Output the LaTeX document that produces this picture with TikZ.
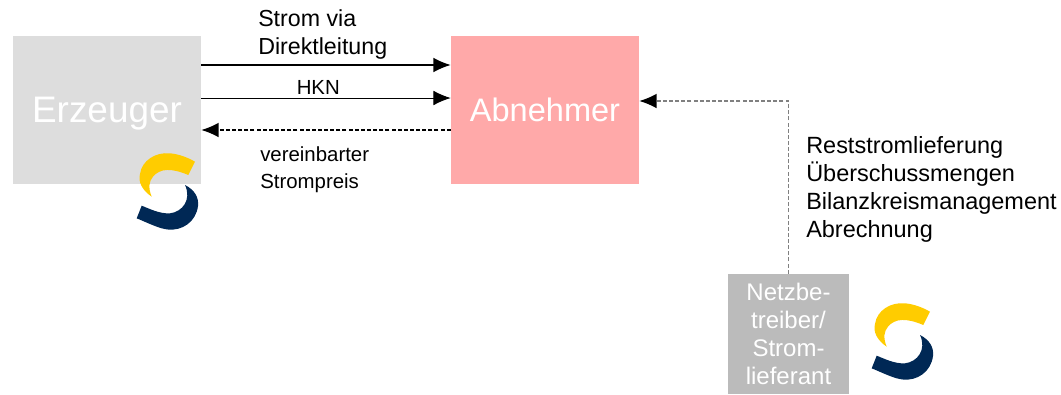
\documentclass[tikz,border=0pt]{standalone}
\usepackage{fontspec}
\setmainfont{Liberation Sans}
\usetikzlibrary{arrows.meta}
\definecolor{logoyellow}{HTML}{FFCC00}
\definecolor{logonavy}{HTML}{002855}
\definecolor{erzeugerfill}{HTML}{DDDDDD}
\definecolor{abnehmerfill}{HTML}{FFA9A9}
\definecolor{netzfill}{HTML}{BBBBBB}
\tikzset{
  partybox/.style={minimum width=#1, inner sep=0pt, text=white},
  conn/.style={-{Latex[length=13pt,width=11pt]}, line width=1pt},
  dashconn/.style={conn, dash pattern=on 3pt off 1.6pt},
  lbl/.style={anchor=west, inner sep=0pt, align=left}
}
\begin{document}
\begin{tikzpicture}[x=0.75pt, y=-0.75pt]
      \useasboundingbox (0,0) rectangle (1061,394);
      % parties
      \node[partybox=141pt, minimum height=111pt, fill=erzeugerfill, text depth=0pt,
        font=\fontsize{27.7}{30}\selectfont] (erzeuger) at (107,110) {Erzeuger};
      \node[partybox=141pt, minimum height=111pt, fill=abnehmerfill,
        font=\fontsize{24.4}{28}\selectfont] (abnehmer) at (545,110) {Abnehmer};
      \node[partybox=90.75pt, minimum height=90pt, fill=netzfill, align=center,
        font=\fontsize{18}{21}\selectfont] (netz) at (788.5,334)
        {Netzbe-\\treiber/\\Strom-\\lieferant};
      % logos
      \foreach \lx/\ly in {0/0, 735/150} {
        \begin{scope}[shift={(\lx,\ly)}]
          \fill[logoyellow] (195,161.7) -- (188.3,175)
            .. controls (172,168) and (160,168) .. (153,176.7)
            .. controls (149,181) and (148,188) .. (151.7,196.7)
            .. controls (142,190) and (138,182) .. (140,174)
            .. controls (142,160) and (156,152) .. (170,153.3)
            .. controls (178,154) and (187,157) .. (195,161.7) -- cycle;
          \fill[logonavy] (185,185)
            .. controls (195,190) and (199,198) .. (198,206)
            .. controls (196,222) and (182,231) .. (168,229.5)
            .. controls (160,229) and (148,223) .. (136.7,218.3)
            -- (141.7,205.7)
            .. controls (150,209) and (160,214) .. (170,213.3)
            .. controls (182,212) and (192,200) .. (185,185) -- cycle;
        \end{scope}
      }
      % connectors
      \draw[conn] ([yshift=33.75pt]erzeuger.east) -- ([yshift=33.75pt]abnehmer.west);
      \draw[conn, line width=0.7pt] ([yshift=9pt]erzeuger.east) -- ([yshift=9pt]abnehmer.west);
      \draw[dashconn] ([yshift=-15pt]abnehmer.west) -- ([yshift=-15pt]erzeuger.east);
      \draw[dashconn, -{Latex[length=13pt,width=11pt,black]}, line width=1pt, gray] (netz.north) |- ([yshift=6.75pt]abnehmer.east);
      % labels
      \node[lbl, font=\fontsize{17.4}{20.5}\selectfont] (direkt) at (258,34.5) {Strom via\\Direktleitung};
      \node[lbl, font=\fontsize{15.3}{18}\selectfont] (hkn) at (296.5,87) {HKN};
      \node[lbl, font=\fontsize{15.3}{20.5}\selectfont] (preis) at (260,170) {vereinbarter\\Strompreis};
      \node[lbl, font=\fontsize{17.6}{21}\selectfont] (dienste) at (806,189)
        {Reststromlieferung\\Überschussmengen\\Bilanzkreismanagement\\Abrechnung};
\end{tikzpicture}
\end{document}
